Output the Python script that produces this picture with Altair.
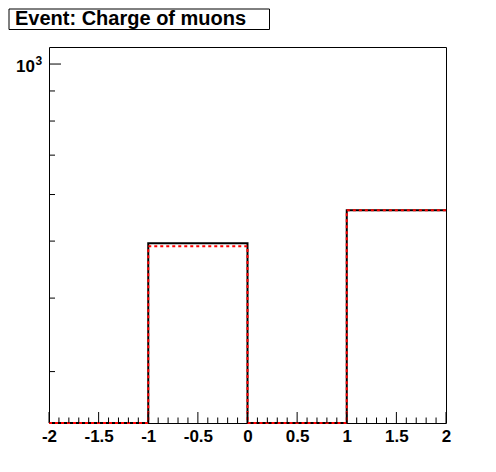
import altair as alt
import pandas as pd

# ---- data ----
bin_edges = [-2, -1, 0, 1, 2]
counts_black = [0, 496, 0, 564]
counts_red = [0, 490, 0, 564]

x_major = [-2, -1.5, -1, -0.5, 0, 0.5, 1, 1.5, 2]
x_minor = [round(-2 + 0.1 * i, 1) for i in range(41) if (i % 5) != 0]
y_major = [1000]
y_major_base = ["10"]
y_major_exp = ["3"]
y_minor = [300, 400, 500, 600, 700, 800, 900]

title_text = "Event: Charge of muons"

YMIN, YMAX = 245.3, 1069
XMIN, XMAX = -2, 2
W, H = 397, 376
FONT = "Liberation Sans"


def step_frame(counts):
    vals = counts + [counts[-1]]
    return pd.DataFrame({"x": bin_edges, "count": vals})


xs = alt.Scale(domain=[XMIN, XMAX], nice=False, zero=False)
ys = alt.Scale(type="log", domain=[YMIN, YMAX], nice=False)

x_axis = alt.Axis(
    values=x_major, labelExpr="'' + datum.value", ticks=False, domain=False,
    grid=False, title=None, labelFont=FONT, labelFontSize=17, labelFontWeight="bold",
    labelColor="black", labelPadding=5, labelFlush=False, labelOverlap=False,
    labelBound=False,
)
label_expr_y = " : ".join(
    f"datum.value == {v} ? '{l}'" for v, l in zip(y_major, y_major_base)
) + " : ''"
y_axis = alt.Axis(
    values=y_major, labelExpr=label_expr_y, ticks=False, domain=False, grid=False,
    title=None, labelFont=FONT, labelFontSize=17, labelFontWeight="bold",
    labelColor="black", labelPadding=14.5, labelOffset=2, labelOverlap=False,
)


def hist_layer(counts, color, dash=None):
    kw = dict(interpolate="step-after", color=color, strokeWidth=2)
    if dash:
        kw["strokeDash"] = dash
    return (
        alt.Chart(step_frame(counts))
        .transform_calculate(yv=f"max(datum.count, {YMIN})")
        .mark_line(**kw)
        .encode(
            x=alt.X("x:Q", scale=xs, axis=x_axis),
            y=alt.Y("yv:Q", scale=ys, axis=y_axis),
        )
    )


black = hist_layer(counts_black, "black")
red = hist_layer(counts_red, "#ff0000", dash=[3, 3])

xmaj = alt.Chart(pd.DataFrame({"x": x_major})).mark_rule(color="black", strokeWidth=1).encode(
    x=alt.X("x:Q", scale=xs, axis=x_axis), y=alt.value(H), y2=alt.value(H - 11))
xmin_ = alt.Chart(pd.DataFrame({"x": x_minor})).mark_rule(color="black", strokeWidth=1).encode(
    x=alt.X("x:Q", scale=xs, axis=x_axis), y=alt.value(H), y2=alt.value(H - 5.5))
ymaj = alt.Chart(pd.DataFrame({"y": y_major})).mark_rule(color="black", strokeWidth=1).encode(
    y=alt.Y("y:Q", scale=ys, axis=y_axis), x=alt.value(0), x2=alt.value(12))
ymin_ = alt.Chart(pd.DataFrame({"y": y_minor})).mark_rule(color="black", strokeWidth=1).encode(
    y=alt.Y("y:Q", scale=ys, axis=y_axis), x=alt.value(0), x2=alt.value(6))
yexp = alt.Chart(pd.DataFrame({"y": y_major, "e": y_major_exp})).mark_text(
    align="left", baseline="middle", font=FONT, fontSize=12, fontWeight="bold",
    color="black", dy=-3,
).encode(y=alt.Y("y:Q", scale=ys, axis=y_axis), x=alt.value(-13.5), text="e:N")

tdf = pd.DataFrame({"t": [title_text]})
tbox = alt.Chart(tdf).mark_rect(fill="white", stroke="black", strokeWidth=1).encode(
    x=alt.value(-40), x2=alt.value(220.5), y=alt.value(-38), y2=alt.value(-17.5))
ttext = alt.Chart(tdf).mark_text(
    align="left", baseline="middle", font=FONT, fontSize=20, fontWeight="bold", color="black"
).encode(x=alt.value(-34), y=alt.value(-28), text="t:N")

chart = (
    alt.layer(black, red, xmaj, xmin_, ymaj, ymin_, yexp, tbox, ttext)
    .properties(
        width=W, height=H,
        padding={"left": 41, "top": 39, "right": 40, "bottom": 40},
        autosize=alt.AutoSizeParams(type="none"),
        background="white",
    )
    .configure_view(stroke="black", strokeWidth=1)
)

chart.save("out.html", embed_options={"renderer": "svg", "actions": False})
